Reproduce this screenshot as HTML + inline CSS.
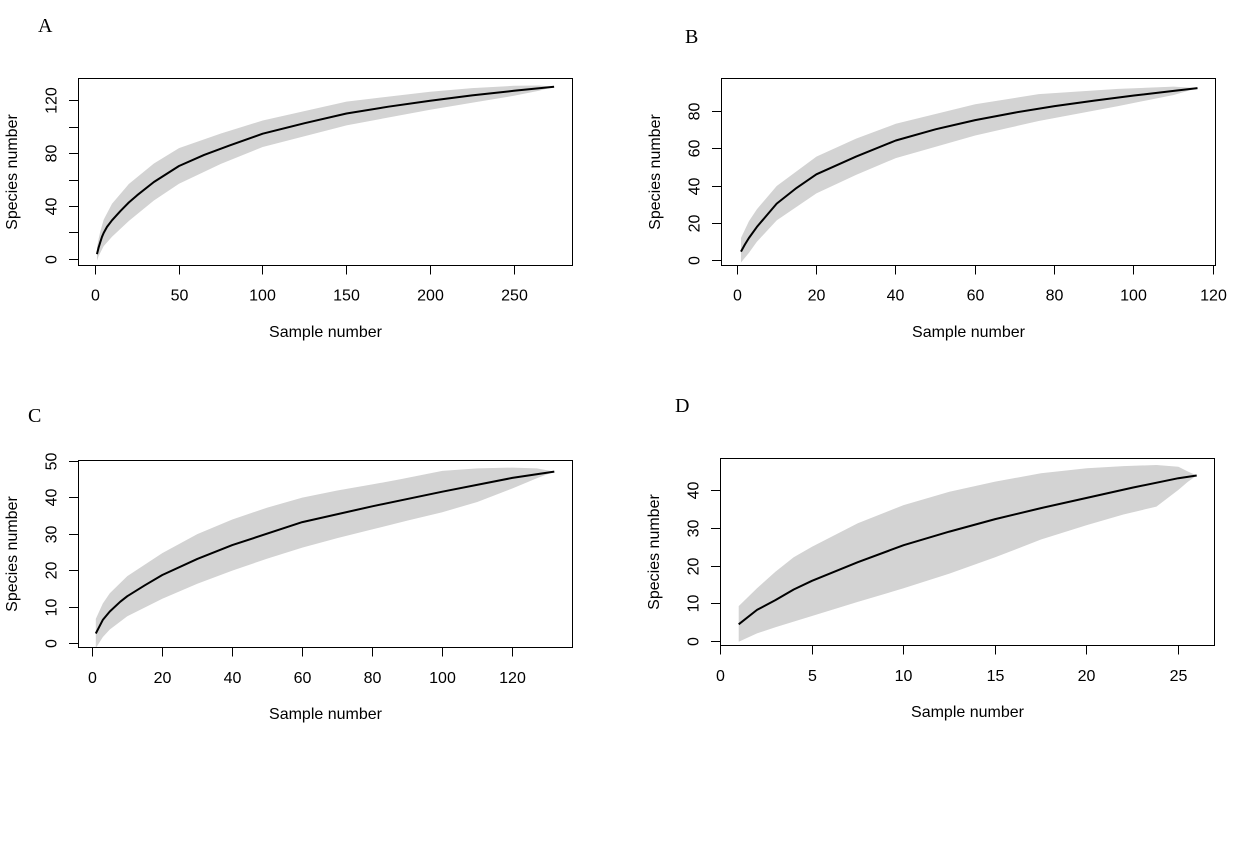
<!DOCTYPE html>
<html>
<head>
<meta charset="utf-8">
<style>
html,body{margin:0;padding:0;background:#fff;}
svg{display:block;}
text{font-family:"Liberation Sans",Arial,sans-serif;font-size:16px;fill:#000;}
.lbl{font-family:"Liberation Serif","Times New Roman",serif;font-size:20px;}
</style>
</head>
<body>
<svg width="1260" height="850" viewBox="0 0 1260 850" xmlns="http://www.w3.org/2000/svg">
<rect x="0" y="0" width="1260" height="850" fill="#fff"/>
<defs>
<clipPath id="cA"><rect x="78.5" y="78.5" width="494" height="187"/></clipPath>
<clipPath id="cB"><rect x="721.5" y="78.5" width="494" height="187"/></clipPath>
<clipPath id="cC"><rect x="78.5" y="460.5" width="494" height="187"/></clipPath>
<clipPath id="cD"><rect x="720.5" y="458.5" width="494" height="187"/></clipPath>
</defs>

<!-- Panel letters -->
<text class="lbl" x="38" y="32">A</text>
<text class="lbl" x="685" y="43">B</text>
<text class="lbl" x="28" y="422">C</text>
<text class="lbl" x="675" y="412">D</text>

<!-- ================= Panel A ================= -->
<g clip-path="url(#cA)">
<polygon fill="#d3d3d3" points="96.97,247.5 98.65,238.8 100.3,231.5 103.7,219.65 112.0,203.8 128.8,184.0 153.9,163.5 179.0,148.1 220.9,133.5 262.7,120.5 346.5,101.6 430.2,91.7 472.0,88.1 513.9,85.8 539.0,85.5 554.1,86.7 539.0,90.8 513.9,95.8 472.0,102.7 430.2,109.7 346.5,125.4 262.7,147.0 220.9,163.9 179.0,183.8 153.9,200.5 128.8,221.0 112.0,236.8 103.7,246.1 100.3,252.7 98.65,256.0 96.97,260.75"/>
<polyline fill="none" stroke="#000" stroke-width="2" stroke-linejoin="round" points="96.97,254.15 98.65,247.4 100.3,242.1 102.0,236.8 103.7,232.9 107.0,226.9 112.0,220.3 120.4,211.1 128.8,202.5 137.2,195.2 153.9,182.0 179.0,166.0 204.1,154.9 229.3,145.6 262.7,133.7 304.6,123.2 346.5,113.5 388.3,106.7 430.2,100.7 472.0,95.4 513.9,90.8 554.1,86.7"/>
</g>
<rect x="78.5" y="78.5" width="494" height="187" fill="none" stroke="#000" stroke-width="1"/>
<g stroke="#000" stroke-width="1">
<line x1="95.5" y1="265.5" x2="95.5" y2="274.5"/>
<line x1="179.5" y1="265.5" x2="179.5" y2="274.5"/>
<line x1="262.5" y1="265.5" x2="262.5" y2="274.5"/>
<line x1="346.5" y1="265.5" x2="346.5" y2="274.5"/>
<line x1="430.5" y1="265.5" x2="430.5" y2="274.5"/>
<line x1="514.5" y1="265.5" x2="514.5" y2="274.5"/>
<line x1="69" y1="259.5" x2="78.5" y2="259.5"/>
<line x1="69" y1="232.5" x2="78.5" y2="232.5"/>
<line x1="69" y1="206.5" x2="78.5" y2="206.5"/>
<line x1="69" y1="180.5" x2="78.5" y2="180.5"/>
<line x1="69" y1="153.5" x2="78.5" y2="153.5"/>
<line x1="69" y1="127.5" x2="78.5" y2="127.5"/>
<line x1="69" y1="100.5" x2="78.5" y2="100.5"/>
</g>
<g text-anchor="middle">
<text x="95.5" y="300.5">0</text>
<text x="179.5" y="300.5">50</text>
<text x="262.5" y="300.5">100</text>
<text x="346.5" y="300.5">150</text>
<text x="430.5" y="300.5">200</text>
<text x="514.5" y="300.5">250</text>
<text x="56.5" y="259.5" transform="rotate(-90 56.5 259.5)">0</text>
<text x="56.5" y="206.5" transform="rotate(-90 56.5 206.5)">40</text>
<text x="56.5" y="153.5" transform="rotate(-90 56.5 153.5)">80</text>
<text x="56.5" y="100.5" transform="rotate(-90 56.5 100.5)">120</text>
<text x="325.5" y="337">Sample number</text>
<text x="17" y="172" transform="rotate(-90 17 172)">Species number</text>
</g>

<!-- ================= Panel B ================= -->
<g clip-path="url(#cB)">
<polygon fill="#d3d3d3" points="740.97,238.0 748.9,221.3 756.9,209.2 776.7,186.0 816.4,156.6 856.1,138.6 895.8,123.8 975.2,104.3 1038.7,94.1 1118.1,88.9 1173.7,86.6 1197.5,88.1 1173.7,95.0 1118.1,106.1 1038.7,121.0 975.2,135.5 895.8,158.1 856.1,174.9 816.4,193.4 776.7,220.4 756.9,241.7 748.9,252.9 740.97,262.5"/>
<polyline fill="none" stroke="#000" stroke-width="2" stroke-linejoin="round" points="740.97,251.6 744.9,244.5 748.9,238.0 756.9,226.9 764.8,217.6 776.7,203.6 796.6,187.9 816.4,174.3 856.1,156.6 895.8,140.5 935.5,129.3 975.2,120.1 1014.9,112.6 1054.6,106.1 1094.3,100.6 1134.0,95.5 1173.7,90.9 1197.5,88.1"/>
</g>
<rect x="721.5" y="78.5" width="494" height="187" fill="none" stroke="#000" stroke-width="1"/>
<g stroke="#000" stroke-width="1">
<line x1="737.5" y1="265.5" x2="737.5" y2="274.5"/>
<line x1="816.5" y1="265.5" x2="816.5" y2="274.5"/>
<line x1="895.5" y1="265.5" x2="895.5" y2="274.5"/>
<line x1="975.5" y1="265.5" x2="975.5" y2="274.5"/>
<line x1="1054.5" y1="265.5" x2="1054.5" y2="274.5"/>
<line x1="1133.5" y1="265.5" x2="1133.5" y2="274.5"/>
<line x1="1213.5" y1="265.5" x2="1213.5" y2="274.5"/>
<line x1="712" y1="260.5" x2="721.5" y2="260.5"/>
<line x1="712" y1="223.5" x2="721.5" y2="223.5"/>
<line x1="712" y1="186.5" x2="721.5" y2="186.5"/>
<line x1="712" y1="148.5" x2="721.5" y2="148.5"/>
<line x1="712" y1="111.5" x2="721.5" y2="111.5"/>
</g>
<g text-anchor="middle">
<text x="737.5" y="300.5">0</text>
<text x="816.5" y="300.5">20</text>
<text x="895.5" y="300.5">40</text>
<text x="975.5" y="300.5">60</text>
<text x="1054.5" y="300.5">80</text>
<text x="1133.5" y="300.5">100</text>
<text x="1213.5" y="300.5">120</text>
<text x="699.5" y="260.5" transform="rotate(-90 699.5 260.5)">0</text>
<text x="699.5" y="223.5" transform="rotate(-90 699.5 223.5)">20</text>
<text x="699.5" y="186.5" transform="rotate(-90 699.5 186.5)">40</text>
<text x="699.5" y="148.5" transform="rotate(-90 699.5 148.5)">60</text>
<text x="699.5" y="111.5" transform="rotate(-90 699.5 111.5)">80</text>
<text x="968.5" y="337">Sample number</text>
<text x="660" y="172" transform="rotate(-90 660 172)">Species number</text>
</g>

<!-- ================= Panel C ================= -->
<g clip-path="url(#cC)">
<polygon fill="#d3d3d3" points="95.8,618.9 102.8,603.5 109.8,593.3 127.3,576.1 162.3,553.1 197.3,534.1 232.3,519.5 267.3,507.6 302.3,497.6 337.3,490.5 372.3,484.4 400.3,479.3 442.3,470.9 477.3,468.4 512.3,467.6 536.8,468.4 554.3,471.6 536.8,478.2 512.3,488.45 477.3,502.0 442.3,512.2 407.3,520.6 372.3,529.4 337.3,538.1 302.3,547.6 267.3,558.6 232.3,570.6 197.3,583.8 162.3,598.8 127.3,616.3 109.8,629.5 102.8,637.1 95.8,648.1"/>
<polyline fill="none" stroke="#000" stroke-width="2" stroke-linejoin="round" points="95.8,633.5 99.3,626.7 102.8,619.9 109.8,611.5 120.3,601.7 127.3,596.2 144.8,585.3 162.3,575.0 197.3,558.95 232.3,545.1 302.3,522.1 372.3,506.3 442.3,491.7 512.3,477.9 554.3,471.6"/>
</g>
<rect x="78.5" y="460.5" width="494" height="187" fill="none" stroke="#000" stroke-width="1"/>
<g stroke="#000" stroke-width="1">
<line x1="92.5" y1="647.5" x2="92.5" y2="656.5"/>
<line x1="162.5" y1="647.5" x2="162.5" y2="656.5"/>
<line x1="232.5" y1="647.5" x2="232.5" y2="656.5"/>
<line x1="302.5" y1="647.5" x2="302.5" y2="656.5"/>
<line x1="372.5" y1="647.5" x2="372.5" y2="656.5"/>
<line x1="442.5" y1="647.5" x2="442.5" y2="656.5"/>
<line x1="512.5" y1="647.5" x2="512.5" y2="656.5"/>
<line x1="69" y1="643.5" x2="78.5" y2="643.5"/>
<line x1="69" y1="607.5" x2="78.5" y2="607.5"/>
<line x1="69" y1="570.5" x2="78.5" y2="570.5"/>
<line x1="69" y1="534.5" x2="78.5" y2="534.5"/>
<line x1="69" y1="497.5" x2="78.5" y2="497.5"/>
<line x1="69" y1="461.5" x2="78.5" y2="461.5"/>
</g>
<g text-anchor="middle">
<text x="92.5" y="683">0</text>
<text x="162.5" y="683">20</text>
<text x="232.5" y="683">40</text>
<text x="302.5" y="683">60</text>
<text x="372.5" y="683">80</text>
<text x="442.5" y="683">100</text>
<text x="512.5" y="683">120</text>
<text x="56.5" y="643.5" transform="rotate(-90 56.5 643.5)">0</text>
<text x="56.5" y="607.5" transform="rotate(-90 56.5 607.5)">10</text>
<text x="56.5" y="570.5" transform="rotate(-90 56.5 570.5)">20</text>
<text x="56.5" y="534.5" transform="rotate(-90 56.5 534.5)">30</text>
<text x="56.5" y="497.5" transform="rotate(-90 56.5 497.5)">40</text>
<text x="56.5" y="461.5" transform="rotate(-90 56.5 461.5)">50</text>
<text x="325.5" y="719">Sample number</text>
<text x="17" y="554" transform="rotate(-90 17 554)">Species number</text>
</g>

<!-- ================= Panel D ================= -->
<g clip-path="url(#cD)">
<polygon fill="#d3d3d3" points="738.7,606.1 757.0,588.3 775.4,571.7 793.7,557.3 812.0,546.7 857.8,523.2 903.6,505.1 949.4,491.8 995.2,481.6 1041.0,473.3 1086.8,468.3 1123.4,466.1 1156.4,465.0 1178.4,466.8 1187.6,471.4 1196.7,475.5 1187.6,482.0 1178.4,489.9 1156.4,506.6 1123.4,514.5 1086.8,525.1 1041.0,539.5 995.2,557.3 949.4,573.6 903.6,588.3 857.8,601.9 812.0,615.96 793.7,621.6 775.4,627.3 757.0,633.4 738.7,641.7"/>
<polyline fill="none" stroke="#000" stroke-width="2" stroke-linejoin="round" points="738.7,624.3 757.0,609.9 775.4,600.1 793.7,589.5 812.0,580.8 857.8,562.2 903.6,545.2 949.4,531.6 995.2,519.1 1041.0,508.1 1086.8,497.9 1132.6,487.6 1178.4,478.2 1196.7,475.5"/>
</g>
<rect x="720.5" y="458.5" width="494" height="187" fill="none" stroke="#000" stroke-width="1"/>
<g stroke="#000" stroke-width="1">
<line x1="720.5" y1="645.5" x2="720.5" y2="654.5"/>
<line x1="812.5" y1="645.5" x2="812.5" y2="654.5"/>
<line x1="903.5" y1="645.5" x2="903.5" y2="654.5"/>
<line x1="995.5" y1="645.5" x2="995.5" y2="654.5"/>
<line x1="1086.5" y1="645.5" x2="1086.5" y2="654.5"/>
<line x1="1178.5" y1="645.5" x2="1178.5" y2="654.5"/>
<line x1="711" y1="641.5" x2="720.5" y2="641.5"/>
<line x1="711" y1="603.5" x2="720.5" y2="603.5"/>
<line x1="711" y1="566.5" x2="720.5" y2="566.5"/>
<line x1="711" y1="528.5" x2="720.5" y2="528.5"/>
<line x1="711" y1="490.5" x2="720.5" y2="490.5"/>
</g>
<g text-anchor="middle">
<text x="720.5" y="681">0</text>
<text x="812.5" y="681">5</text>
<text x="903.5" y="681">10</text>
<text x="995.5" y="681">15</text>
<text x="1086.5" y="681">20</text>
<text x="1178.5" y="681">25</text>
<text x="698.5" y="641.5" transform="rotate(-90 698.5 641.5)">0</text>
<text x="698.5" y="603.5" transform="rotate(-90 698.5 603.5)">10</text>
<text x="698.5" y="566.5" transform="rotate(-90 698.5 566.5)">20</text>
<text x="698.5" y="528.5" transform="rotate(-90 698.5 528.5)">30</text>
<text x="698.5" y="490.5" transform="rotate(-90 698.5 490.5)">40</text>
<text x="967.5" y="717">Sample number</text>
<text x="659" y="552" transform="rotate(-90 659 552)">Species number</text>
</g>
</svg>
</body>
</html>
